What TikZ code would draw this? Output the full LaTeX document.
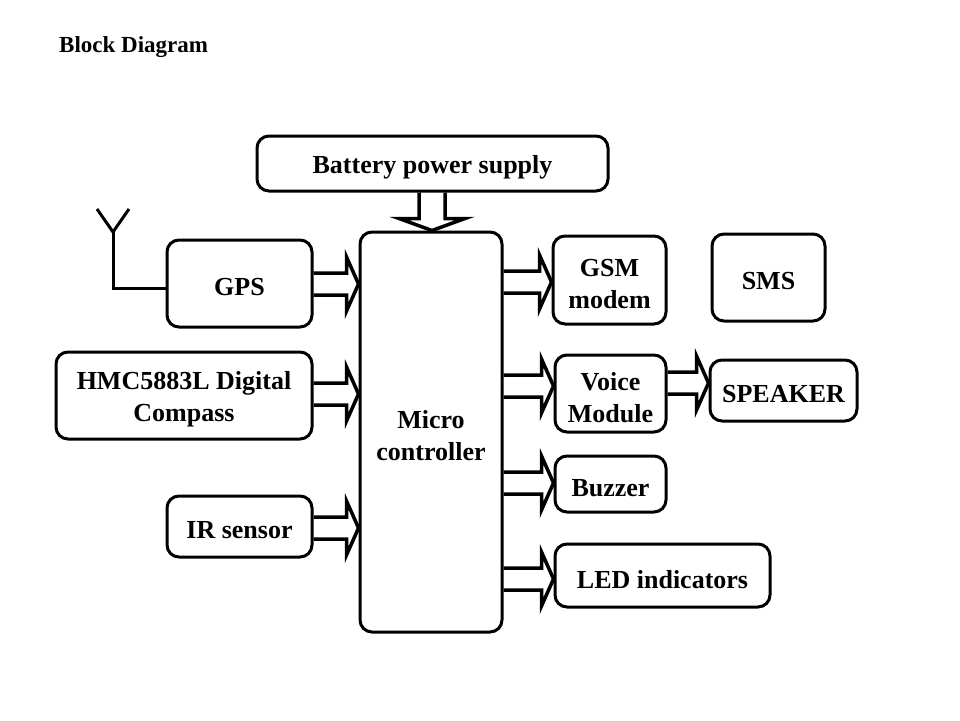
\documentclass[tikz,border=0pt]{standalone}
\usepackage{fontspec}
\setmainfont{Liberation Serif}
\usetikzlibrary{calc}
\tikzset{
  blk/.style={draw, line width=3pt, rounded corners=12pt, inner sep=0pt},
  txt/.style={inner sep=0pt, align=center, font=\fontsize{26}{32}\selectfont\bfseries},
  barrow/.style={draw, line width=3.5pt, line join=miter},
  wire/.style={draw, line width=3pt}
}
\newcommand\hblock[3]{%
  \path (#1.east |- 0,#3) coordinate (s) (#2.west |- 0,#3) coordinate (t);
  \draw[barrow] ($(s)+(0,-11)$) -- ($(t)+(-12,-11)$) -- ($(t)+(-12,-27)$) -- (t)
    -- ($(t)+(-12,27)$) -- ($(t)+(-12,11)$) -- ($(s)+(0,11)$);}
\newcommand\boxlabel[2]{\node[txt] (#1-t) at ($(#1.center)+(0,4)$) {#2};}
\begin{document}
\begin{tikzpicture}[x=1pt,y=-1pt]
\useasboundingbox (0,0) rectangle (960,720);
\fill[white] (0,0) rectangle (960,720);
\node[anchor=west, inner sep=0pt, font=\fontsize{23}{28}\selectfont\bfseries] (title) at (59,47) {Block Diagram};

\node[blk, minimum width=351pt, minimum height=55pt] (bat) at (432.5,163.5) {};
\node[blk, minimum width=142pt, minimum height=400pt] (mc) at (431,432) {};
\node[blk, minimum width=145pt, minimum height=87pt] (gps) at (239.5,283.5) {};
\node[blk, minimum width=256pt, minimum height=87pt] (hmc) at (184,395.5) {};
\node[blk, minimum width=145pt, minimum height=61pt] (ir) at (239.5,526.5) {};
\node[blk, minimum width=113pt, minimum height=88pt] (gsm) at (609.5,280) {};
\node[blk, minimum width=113pt, minimum height=87pt] (sms) at (768.5,277.5) {};
\node[blk, minimum width=111pt, minimum height=77pt] (voice) at (610.5,393.5) {};
\node[blk, minimum width=147pt, minimum height=61pt] (spk) at (783.5,390.5) {};
\node[blk, minimum width=111pt, minimum height=56pt] (buz) at (610.5,484) {};
\node[blk, minimum width=215pt, minimum height=63pt] (led) at (662.5,575.5) {};

\boxlabel{bat}{Battery power supply}
\boxlabel{mc}{Micro\\controller}
\boxlabel{gps}{GPS}
\boxlabel{hmc}{HMC5883L Digital\\Compass}
\boxlabel{ir}{IR sensor}
\boxlabel{gsm}{GSM\\modem}
\boxlabel{sms}{SMS}
\boxlabel{voice}{Voice\\Module}
\boxlabel{spk}{SPEAKER}
\boxlabel{buz}{Buzzer}
\boxlabel{led}{LED indicators}

% battery to microcontroller
\path (bat.south -| 432,0) coordinate (vs) (mc.north -| 432,0) coordinate (vt);
\draw[barrow] ($(vs)+(-13,0)$) -- ($(vt)+(-13,-12)$) -- ($(vt)+(-33,-12)$) -- (vt)
  -- ($(vt)+(33,-12)$) -- ($(vt)+(13,-12)$) -- ($(vs)+(13,0)$);

\hblock{gps}{mc}{284}
\hblock{hmc}{mc}{394}
\hblock{ir}{mc}{528}
\hblock{mc}{gsm}{282}
\hblock{mc}{voice}{386}
\hblock{mc}{buz}{483}
\hblock{mc}{led}{579}
\hblock{voice}{spk}{383}

% antenna
\coordinate (ant) at (113,232);
\coordinate (antL) at (97,209);
\coordinate (antR) at (129,209);
\coordinate (antB) at (113,288);
\draw[wire] (antL) -- (ant) -- (antR);
\draw[wire] (ant) -- (antB) -- (gps.west |- antB);
\end{tikzpicture}
\end{document}
